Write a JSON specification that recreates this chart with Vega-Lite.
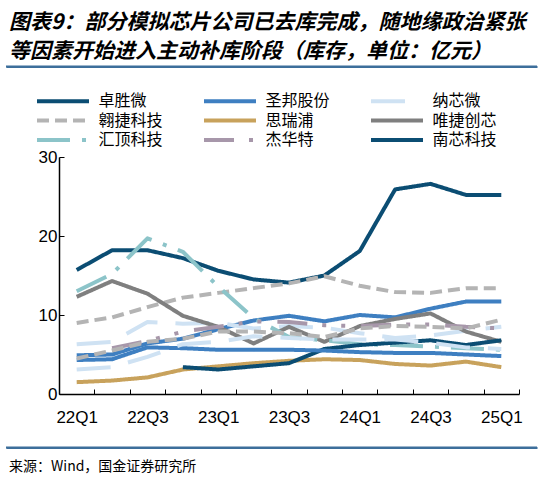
{
  "$schema": "https://vega.github.io/schema/vega-lite/v6.json",
  "padding": {"left": 5, "top": 11.5, "right": 0, "bottom": 0},
  "spacing": 21.5,
  "config": {
    "view": {"stroke": null},
    "axis": {"grid": false, "domainColor": "#000", "tickColor": "#000", "labelColor": "#000"}
  },
  "vconcat": [
    {
      "width": 478,
      "height": 60,
      "title": {
        "text": ["图表9：部分模拟芯片公司已去库完成，随地缘政治紧张", "等因素开始进入主动补库阶段（库存，单位：亿元）"],
        "anchor": "start",
        "frame": "group",
        "dx": -50,
        "offset": 4,
        "font": "Noto Sans CJK SC",
        "fontSize": 21,
        "fontWeight": "bold",
        "fontStyle": "italic",
        "lineHeight": 28.5,
        "color": "#000"
      },
      "data": {"values": [{"from": 0, "to": 1, "pos": 1}]},
      "mark": {"type": "rule", "stroke": "#3d6f9b", "strokeWidth": 2},
      "encoding": {
        "x": {
          "field": "from",
          "type": "quantitative",
          "scale": {"domain": [0, 1], "range": [-53, 478]},
          "axis": {"orient": "top", "title": null, "ticks": false, "labels": false, "domainColor": "#3d6f9b", "domainWidth": 2}
        },
        "x2": {"field": "to"},
        "y": {"field": "pos", "type": "quantitative", "scale": {"domain": [0, 1]}, "axis": null}
      }
    },
    {
      "width": 460,
      "height": 237,
      "data": {
        "values": [
          {"q": "22Q1", "c": "卓胜微", "v": 15.7},
          {"q": "22Q2", "c": "卓胜微", "v": 18.2},
          {"q": "22Q3", "c": "卓胜微", "v": 18.2},
          {"q": "22Q4", "c": "卓胜微", "v": 17.2},
          {"q": "23Q1", "c": "卓胜微", "v": 15.6},
          {"q": "23Q2", "c": "卓胜微", "v": 14.5},
          {"q": "23Q3", "c": "卓胜微", "v": 14.1},
          {"q": "23Q4", "c": "卓胜微", "v": 15.0},
          {"q": "24Q1", "c": "卓胜微", "v": 18.1},
          {"q": "24Q2", "c": "卓胜微", "v": 25.9},
          {"q": "24Q3", "c": "卓胜微", "v": 26.6},
          {"q": "24Q4", "c": "卓胜微", "v": 25.2},
          {"q": "25Q1", "c": "卓胜微", "v": 25.2},

          {"q": "22Q1", "c": "圣邦股份", "v": 4.9},
          {"q": "22Q2", "c": "圣邦股份", "v": 5.0},
          {"q": "22Q3", "c": "圣邦股份", "v": 6.4},
          {"q": "22Q4", "c": "圣邦股份", "v": 7.0},
          {"q": "23Q1", "c": "圣邦股份", "v": 8.2},
          {"q": "23Q2", "c": "圣邦股份", "v": 9.3},
          {"q": "23Q3", "c": "圣邦股份", "v": 9.9},
          {"q": "23Q4", "c": "圣邦股份", "v": 9.2},
          {"q": "24Q1", "c": "圣邦股份", "v": 10.0},
          {"q": "24Q2", "c": "圣邦股份", "v": 9.7},
          {"q": "24Q3", "c": "圣邦股份", "v": 10.8},
          {"q": "24Q4", "c": "圣邦股份", "v": 11.7},
          {"q": "25Q1", "c": "圣邦股份", "v": 11.7},

          {"q": "22Q1", "c": "纳芯微", "v": 6.3},
          {"q": "22Q2", "c": "纳芯微", "v": 6.6},
          {"q": "22Q3", "c": "纳芯微", "v": 9.1},
          {"q": "22Q4", "c": "纳芯微", "v": 8.9},
          {"q": "23Q1", "c": "纳芯微", "v": 9.0},
          {"q": "23Q2", "c": "纳芯微", "v": 8.3},
          {"q": "23Q3", "c": "纳芯微", "v": 8.6},
          {"q": "23Q4", "c": "纳芯微", "v": 8.4},
          {"q": "24Q1", "c": "纳芯微", "v": 7.7},
          {"q": "24Q2", "c": "纳芯微", "v": 7.1},
          {"q": "24Q3", "c": "纳芯微", "v": 7.4},
          {"q": "24Q4", "c": "纳芯微", "v": 8.0},
          {"q": "25Q1", "c": "纳芯微", "v": 8.5},

          {"q": "22Q1", "c": "翱捷科技", "v": 9.0},
          {"q": "22Q2", "c": "翱捷科技", "v": 9.7},
          {"q": "22Q3", "c": "翱捷科技", "v": 11.0},
          {"q": "22Q4", "c": "翱捷科技", "v": 12.2},
          {"q": "23Q1", "c": "翱捷科技", "v": 12.8},
          {"q": "23Q2", "c": "翱捷科技", "v": 13.4},
          {"q": "23Q3", "c": "翱捷科技", "v": 14.0},
          {"q": "23Q4", "c": "翱捷科技", "v": 14.9},
          {"q": "24Q1", "c": "翱捷科技", "v": 13.7},
          {"q": "24Q2", "c": "翱捷科技", "v": 12.9},
          {"q": "24Q3", "c": "翱捷科技", "v": 12.8},
          {"q": "24Q4", "c": "翱捷科技", "v": 13.4},
          {"q": "25Q1", "c": "翱捷科技", "v": 13.4},

          {"q": "22Q1", "c": "思瑞浦", "v": 1.5},
          {"q": "22Q2", "c": "思瑞浦", "v": 1.7},
          {"q": "22Q3", "c": "思瑞浦", "v": 2.1},
          {"q": "22Q4", "c": "思瑞浦", "v": 3.1},
          {"q": "23Q1", "c": "思瑞浦", "v": 3.5},
          {"q": "23Q2", "c": "思瑞浦", "v": 3.9},
          {"q": "23Q3", "c": "思瑞浦", "v": 4.2},
          {"q": "23Q4", "c": "思瑞浦", "v": 4.4},
          {"q": "24Q1", "c": "思瑞浦", "v": 4.3},
          {"q": "24Q2", "c": "思瑞浦", "v": 3.8},
          {"q": "24Q3", "c": "思瑞浦", "v": 3.6},
          {"q": "24Q4", "c": "思瑞浦", "v": 4.1},
          {"q": "25Q1", "c": "思瑞浦", "v": 3.4},

          {"q": "22Q1", "c": "唯捷创芯", "v": 12.3},
          {"q": "22Q2", "c": "唯捷创芯", "v": 14.3},
          {"q": "22Q3", "c": "唯捷创芯", "v": 12.7},
          {"q": "22Q4", "c": "唯捷创芯", "v": 9.9},
          {"q": "23Q1", "c": "唯捷创芯", "v": 8.5},
          {"q": "23Q2", "c": "唯捷创芯", "v": 6.4},
          {"q": "23Q3", "c": "唯捷创芯", "v": 8.5},
          {"q": "23Q4", "c": "唯捷创芯", "v": 6.6},
          {"q": "24Q1", "c": "唯捷创芯", "v": 8.6},
          {"q": "24Q2", "c": "唯捷创芯", "v": 9.5},
          {"q": "24Q3", "c": "唯捷创芯", "v": 10.2},
          {"q": "24Q4", "c": "唯捷创芯", "v": 7.9},
          {"q": "25Q1", "c": "唯捷创芯", "v": 6.6},

          {"q": "22Q1", "c": "汇顶科技", "v": 13.0},
          {"q": "22Q2", "c": "汇顶科技", "v": 15.2},
          {"q": "22Q3", "c": "汇顶科技", "v": 19.7},
          {"q": "22Q4", "c": "汇顶科技", "v": 18.0},
          {"q": "23Q1", "c": "汇顶科技", "v": 13.6},
          {"q": "23Q2", "c": "汇顶科技", "v": 9.6},
          {"q": "23Q3", "c": "汇顶科技", "v": 7.2},
          {"q": "23Q4", "c": "汇顶科技", "v": 6.8},
          {"q": "24Q1", "c": "汇顶科技", "v": 6.3},
          {"q": "24Q2", "c": "汇顶科技", "v": 6.2},
          {"q": "24Q3", "c": "汇顶科技", "v": 6.0},
          {"q": "24Q4", "c": "汇顶科技", "v": 5.8},
          {"q": "25Q1", "c": "汇顶科技", "v": 5.6},

          {"q": "22Q2", "c": "杰华特", "v": 5.8},
          {"q": "22Q3", "c": "杰华特", "v": 6.7},
          {"q": "22Q4", "c": "杰华特", "v": 7.9},
          {"q": "23Q1", "c": "杰华特", "v": 8.5},
          {"q": "23Q2", "c": "杰华特", "v": 9.2},
          {"q": "23Q3", "c": "杰华特", "v": 9.1},
          {"q": "23Q4", "c": "杰华特", "v": 8.7},
          {"q": "24Q1", "c": "杰华特", "v": 8.6},
          {"q": "24Q2", "c": "杰华特", "v": 8.8},
          {"q": "24Q3", "c": "杰华特", "v": 8.8},
          {"q": "24Q4", "c": "杰华特", "v": 8.5},
          {"q": "25Q1", "c": "杰华特", "v": 8.3},

          {"q": "22Q4", "c": "南芯科技", "v": 3.4},
          {"q": "23Q1", "c": "南芯科技", "v": 3.1},
          {"q": "23Q2", "c": "南芯科技", "v": 3.5},
          {"q": "23Q3", "c": "南芯科技", "v": 3.9},
          {"q": "23Q4", "c": "南芯科技", "v": 5.7},
          {"q": "24Q1", "c": "南芯科技", "v": 6.2},
          {"q": "24Q2", "c": "南芯科技", "v": 6.5},
          {"q": "24Q3", "c": "南芯科技", "v": 6.8},
          {"q": "24Q4", "c": "南芯科技", "v": 6.2},
          {"q": "25Q1", "c": "南芯科技", "v": 6.8},

          {"q": "22Q1", "c": "系列10", "v": 4.3},
          {"q": "22Q2", "c": "系列10", "v": 4.4},
          {"q": "22Q3", "c": "系列10", "v": 5.9},
          {"q": "22Q4", "c": "系列10", "v": 5.8},
          {"q": "23Q1", "c": "系列10", "v": 5.6},
          {"q": "23Q2", "c": "系列10", "v": 5.6},
          {"q": "23Q3", "c": "系列10", "v": 5.6},
          {"q": "23Q4", "c": "系列10", "v": 5.5},
          {"q": "24Q1", "c": "系列10", "v": 5.3},
          {"q": "24Q2", "c": "系列10", "v": 5.2},
          {"q": "24Q3", "c": "系列10", "v": 5.2},
          {"q": "24Q4", "c": "系列10", "v": 5.0},
          {"q": "25Q1", "c": "系列10", "v": 4.8},

          {"q": "22Q1", "c": "系列11", "v": 3.1},
          {"q": "22Q2", "c": "系列11", "v": 3.4},
          {"q": "22Q3", "c": "系列11", "v": 4.7},
          {"q": "22Q4", "c": "系列11", "v": 6.3},
          {"q": "23Q1", "c": "系列11", "v": 6.6},
          {"q": "23Q2", "c": "系列11", "v": 7.3},
          {"q": "23Q3", "c": "系列11", "v": 7.1},
          {"q": "23Q4", "c": "系列11", "v": 6.9},
          {"q": "24Q1", "c": "系列11", "v": 6.9},
          {"q": "24Q2", "c": "系列11", "v": 6.9},
          {"q": "24Q3", "c": "系列11", "v": 6.5},
          {"q": "24Q4", "c": "系列11", "v": 5.9},
          {"q": "25Q1", "c": "系列11", "v": 5.7},

          {"q": "22Q1", "c": "系列12", "v": 4.5},
          {"q": "22Q2", "c": "系列12", "v": 5.5},
          {"q": "22Q3", "c": "系列12", "v": 6.6},
          {"q": "22Q4", "c": "系列12", "v": 7.0},
          {"q": "23Q1", "c": "系列12", "v": 7.9},
          {"q": "23Q2", "c": "系列12", "v": 7.9},
          {"q": "23Q3", "c": "系列12", "v": 7.7},
          {"q": "23Q4", "c": "系列12", "v": 7.2},
          {"q": "24Q1", "c": "系列12", "v": 8.3},
          {"q": "24Q2", "c": "系列12", "v": 8.6},
          {"q": "24Q3", "c": "系列12", "v": 8.5},
          {"q": "24Q4", "c": "系列12", "v": 8.3},
          {"q": "25Q1", "c": "系列12", "v": 9.4}
        ]
      },
      "mark": {"type": "line", "strokeWidth": 4, "strokeJoin": "round"},
      "encoding": {
        "x": {
          "field": "q",
          "type": "ordinal",
          "sort": null,
          "scale": {"type": "band", "paddingInner": 0, "paddingOuter": 0},
          "axis": {
            "title": null,
            "tickBand": "extent",
            "labelExpr": "indexof(['22Q1','22Q3','23Q1','23Q3','24Q1','24Q3','25Q1'], datum.value) >= 0 ? datum.label : ''",
            "labelAngle": 0,
            "labelFont": "Liberation Sans",
            "labelFontSize": 17,
            "labelPadding": 20,
            "labelFlush": false,
            "labelOverlap": false,
            "tickSize": -5,
            "tickWidth": 1,
            "domainWidth": 1.5
          }
        },
        "y": {
          "field": "v",
          "type": "quantitative",
          "scale": {"domain": [0, 30], "nice": false},
          "axis": {
            "title": null,
            "values": [0, 10, 20, 30],
            "labelFont": "Liberation Sans",
            "labelFontSize": 17,
            "labelPadding": 7,
            "tickSize": -5,
            "tickWidth": 1,
            "domainWidth": 1.5,
            "minExtent": 53
          }
        },
        "color": {
          "field": "c",
          "type": "nominal",
          "scale": {
            "domain": ["卓胜微", "圣邦股份", "纳芯微", "翱捷科技", "思瑞浦", "唯捷创芯", "汇顶科技", "杰华特", "南芯科技", "系列10", "系列11", "系列12"],
            "range": ["#0b4d73", "#3e7fc1", "#cfe2f3", "#b4b4b4", "#c8a25c", "#7f7f7f", "#8cc4c9", "#a797aa", "#0b4d73", "#3e7fc1", "#cfe2f3", "#b4b4b4"]
          },
          "legend": {
            "title": null,
            "orient": "none",
            "direction": "horizontal",
            "legendX": -26,
            "legendY": 22,
            "padding": 4,
            "columns": 3,
            "columnPadding": 33,
            "rowPadding": 2.5,
            "symbolType": "M-4,0H4",
            "symbolSize": 169,
            "symbolStrokeWidth": 4,
            "symbolOffset": 17.5,
            "labelFont": "Noto Sans CJK SC",
            "labelFontSize": 16,
            "labelColor": "#000",
            "labelOffset": 27,
            "values": ["卓胜微", "圣邦股份", "纳芯微", "翱捷科技", "思瑞浦", "唯捷创芯", "汇顶科技", "杰华特", "南芯科技"]
          }
        },
        "strokeDash": {
          "field": "c",
          "type": "nominal",
          "scale": {
            "domain": ["卓胜微", "圣邦股份", "纳芯微", "翱捷科技", "思瑞浦", "唯捷创芯", "汇顶科技", "杰华特", "南芯科技", "系列10", "系列11", "系列12"],
            "range": [[1, 0], [1, 0], [34, 18], [12, 6], [1, 0], [1, 0], [33, 12, 4, 12], [30, 15, 4, 15, 4, 16], [1, 0], [1, 0], [34, 18], [12, 6]]
          },
          "legend": {
            "title": null,
            "orient": "none",
            "direction": "horizontal",
            "legendX": -26,
            "legendY": 22,
            "padding": 4,
            "columns": 3,
            "columnPadding": 33,
            "rowPadding": 2.5,
            "symbolType": "M-4,0H4",
            "symbolSize": 169,
            "symbolStrokeWidth": 4,
            "symbolOffset": 17.5,
            "labelFont": "Noto Sans CJK SC",
            "labelFontSize": 16,
            "labelColor": "#000",
            "labelOffset": 27,
            "values": ["卓胜微", "圣邦股份", "纳芯微", "翱捷科技", "思瑞浦", "唯捷创芯", "汇顶科技", "杰华特", "南芯科技"]
          }
        }
      }
    },
    {
      "width": 478,
      "height": 1,
      "title": {
        "text": "来源：Wind，国金证券研究所",
        "orient": "bottom",
        "anchor": "start",
        "frame": "group",
        "dx": -50,
        "offset": 11.5,
        "font": "Noto Sans CJK SC",
        "fontSize": 14,
        "fontWeight": "normal",
        "color": "#000"
      },
      "data": {"values": [{"from": 0, "to": 1, "pos": 1}]},
      "mark": {"type": "rule", "stroke": "#3d6f9b", "strokeWidth": 2},
      "encoding": {
        "x": {
          "field": "from",
          "type": "quantitative",
          "scale": {"domain": [0, 1], "range": [-53, 478]},
          "axis": {"orient": "top", "title": null, "ticks": false, "labels": false, "domainColor": "#3d6f9b", "domainWidth": 2}
        },
        "x2": {"field": "to"},
        "y": {"field": "pos", "type": "quantitative", "scale": {"domain": [0, 1]}, "axis": null}
      }
    }
  ]
}
